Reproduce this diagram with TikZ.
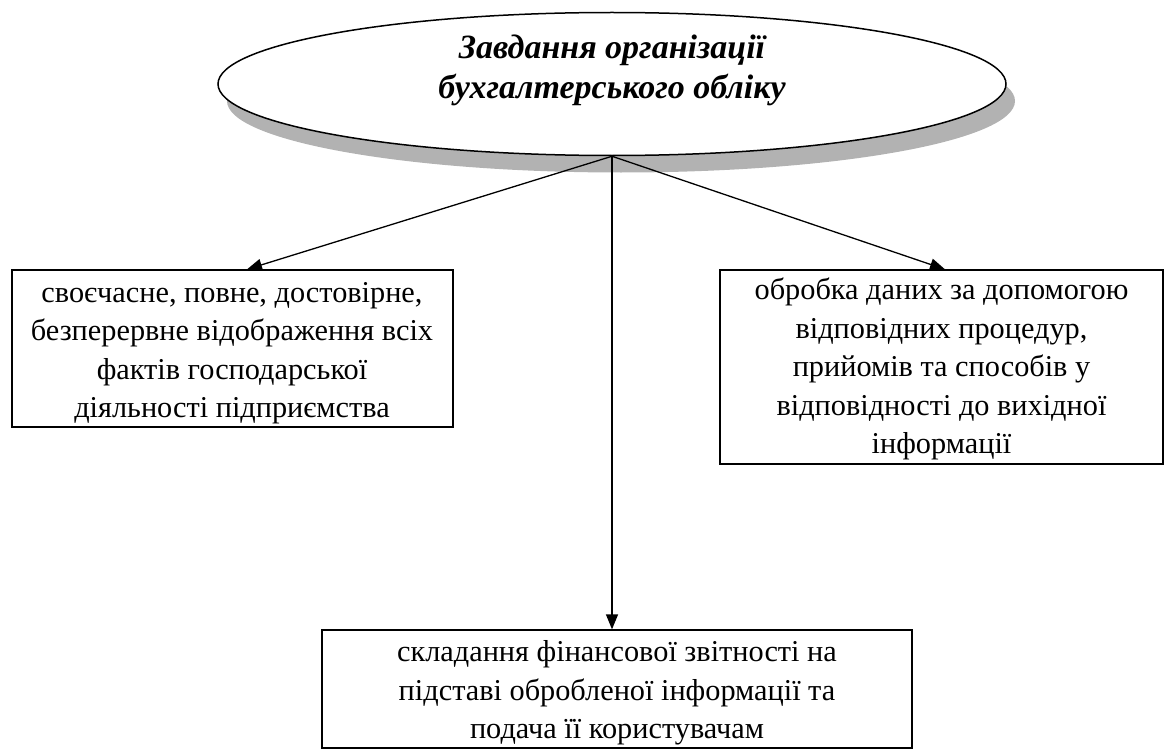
\documentclass[tikz,border=0pt]{standalone}
\usepackage{fontspec}
\setmainfont{Liberation Serif}
\usetikzlibrary{arrows.meta,shapes.geometric,shadows}
\begin{document}
\begin{tikzpicture}[x=1pt,y=-1pt,
  boxframe/.style={draw=black,line width=1.3pt,rectangle,inner sep=0pt},
  boxtext/.style={inner sep=0pt,align=center,font=\fontsize{30.3}{38.5}\selectfont},
  arr/.style={line width=1.3pt,-{Triangle[length=15pt,width=12pt]}},
  titleshape/.style={ellipse,draw=black,line width=1.5pt,fill=white,inner sep=0pt,
    minimum width=788pt,minimum height=143pt,
    drop shadow={shadow xshift=9pt,shadow yshift=-17pt,fill=gray!60,opacity=1}},
  titletext/.style={inner sep=0pt,align=center,font=\fontsize{34}{40}\selectfont\bfseries\itshape}]
\useasboundingbox (0,0) rectangle (1174,749);
\node[titleshape] (e) at (612,84) {};
\node[titletext] (et) at (612,70) {Завдання організації\\бухгалтерського обліку};
\coordinate (o) at (e.south);
\node[boxframe,minimum width=441pt,minimum height=157pt] (lb) at (232.5,348.5) {};
\node[boxtext] (lbt) at (232,353)
  {своєчасне, повне, достовірне,\\безперервне відображення всіх\\фактів господарської\\діяльності підприємства};
\node[boxframe,minimum width=443pt,minimum height=194pt] (rb) at (941.5,367) {};
\node[boxtext] (rbt) at (941.5,369)
  {обробка даних за допомогою\\відповідних процедур,\\прийомів та способів у\\відповідності до вихідної\\інформації};
\node[boxframe,minimum width=590pt,minimum height=118pt] (bb) at (617,689) {};
\node[boxtext] (bbt) at (617,693)
  {складання фінансової звітності на\\підставі обробленої інформації та\\подача її користувачам};
\draw[arr] (o) -- ([xshift=14.5pt]lb.north);
\draw[arr] (o) -- ([xshift=3.5pt]rb.north);
\draw[arr] (o) -- (o |- bb.north);
\end{tikzpicture}
\end{document}
